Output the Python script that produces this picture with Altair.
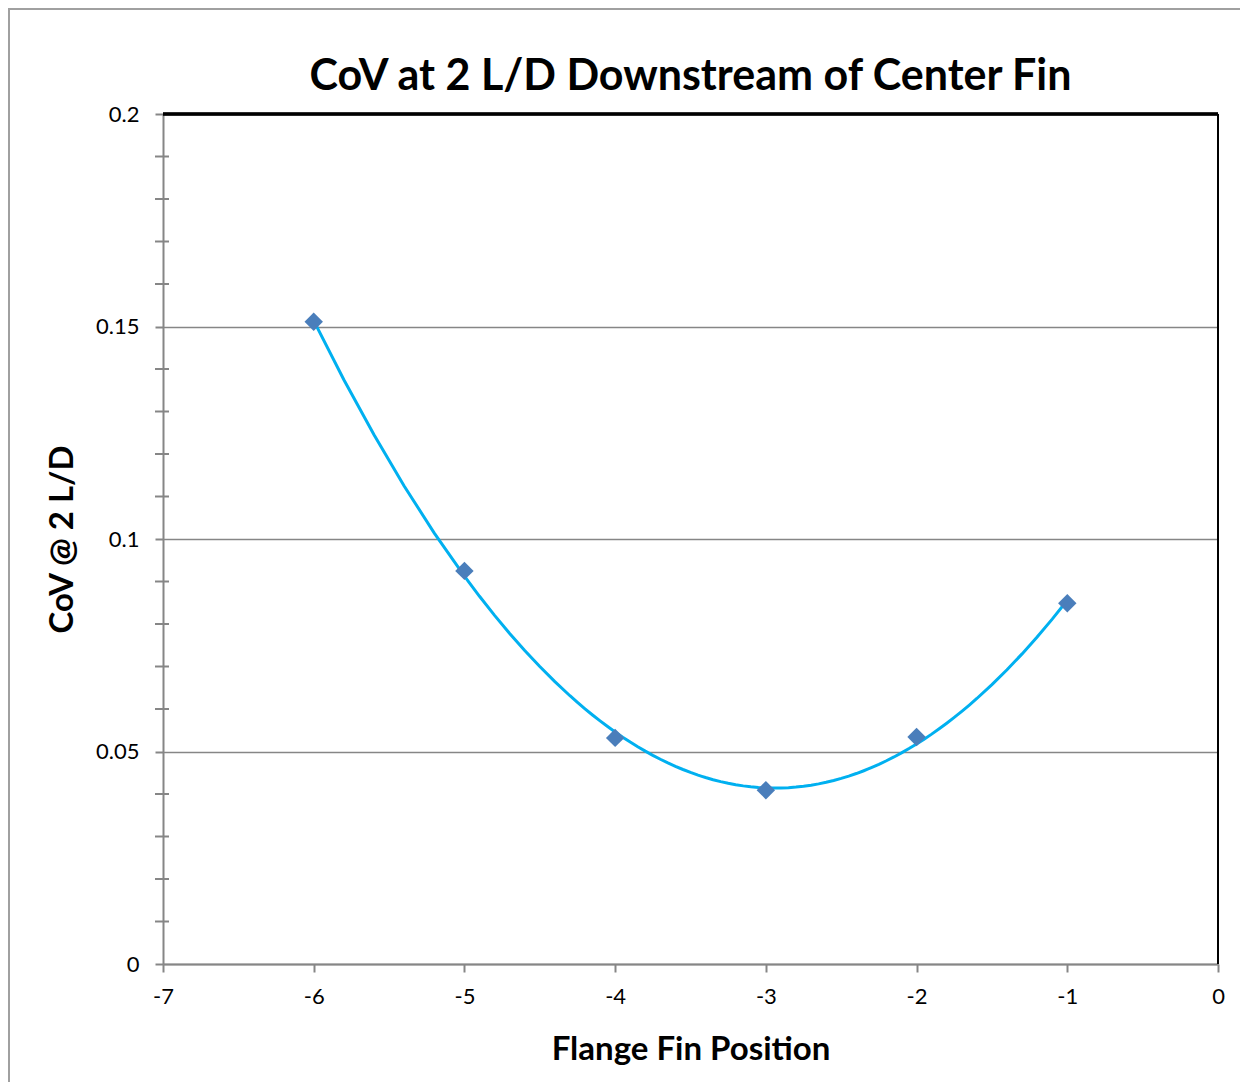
import altair as alt
import pandas as pd

# Data
positions = [-6, -5, -4, -3, -2, -1]
cov_values = [0.1511, 0.0925, 0.0532, 0.0409, 0.0534, 0.0849]

x_ticks = [-7, -6, -5, -4, -3, -2, -1, 0]
y_ticks = [0, 0.05, 0.1, 0.15, 0.2]
y_minor = [0.01, 0.02, 0.03, 0.04, 0.06, 0.07, 0.08, 0.09,
           0.11, 0.12, 0.13, 0.14, 0.16, 0.17, 0.18, 0.19]

df = pd.DataFrame({"pos": positions, "cov": cov_values})
minor_df = pd.DataFrame({"v": y_minor})

FONT = "Lato"
GRAY = "#868686"

x_scale = alt.Scale(domain=[-7, 0], nice=False, zero=False)
y_scale = alt.Scale(domain=[0, 0.2], nice=False)

x_enc = alt.X("pos:Q", scale=x_scale,
              axis=alt.Axis(title="Flange Fin Position", values=x_ticks,
                            labelExpr="datum.value < 0 ? '-' + format(-datum.value, 'd') : format(datum.value, 'd')",
                            grid=False, domainColor=GRAY, domainWidth=2,
                            tickColor=GRAY, tickWidth=2, tickSize=8,
                            labelFont=FONT, labelFontSize=22, labelColor="black",
                            labelPadding=14, labelFlush=False,
                            titleFont=FONT, titleFontSize=33, titleFontWeight="bold",
                            titleColor="black", titlePadding=26))
y_enc = alt.Y("cov:Q", scale=y_scale,
              axis=alt.Axis(title="CoV @ 2 L/D", values=y_ticks,
                            labelExpr="datum.value == 0 ? '0' : format(datum.value, '.2~f')",
                            grid=True, gridColor=GRAY, gridWidth=1.5,
                            domainColor=GRAY, domainWidth=2,
                            tickColor=GRAY, tickWidth=2, tickSize=8,
                            labelFont=FONT, labelFontSize=22, labelColor="black",
                            labelPadding=16, labelFlush=False,
                            titleFont=FONT, titleFontSize=33, titleFontWeight="bold",
                            titleColor="black", titlePadding=16))

trend = alt.Chart(df).transform_regression(
    "pos", "cov", method="poly", order=2, extent=[-6, -1]
).mark_line(color="#00B0F0", strokeWidth=3).encode(x=x_enc, y=y_enc)

points = alt.Chart(df).mark_point(shape="diamond", filled=True, size=340,
                                  color="#4A7EBB", opacity=1).encode(x=x_enc, y=y_enc)

minor = alt.Chart(minor_df).mark_rule(color=GRAY, strokeWidth=2).encode(
    y=alt.Y("v:Q", scale=y_scale), x=alt.value(-8), x2=alt.value(6))

border_top = alt.Chart(df).mark_rule(color="black", strokeWidth=2.5).encode(
    x=alt.value(0), x2=alt.value(1055), y=alt.value(0))
border_right = alt.Chart(df).mark_rule(color="black", strokeWidth=2).encode(
    x=alt.value(1055), y=alt.value(0), y2=alt.value(850))

frame_left = alt.Chart(df).mark_rule(color="#A0A0A0", strokeWidth=2).encode(
    x=alt.value(-154), y=alt.value(-106), y2=alt.value(1000))
frame_top = alt.Chart(df).mark_rule(color="#A0A0A0", strokeWidth=2).encode(
    x=alt.value(-155), x2=alt.value(1100), y=alt.value(-105))

chart = alt.layer(minor, trend, points, border_top, border_right, frame_left, frame_top).properties(
    width=1055, height=850,
    title=alt.TitleParams("CoV at 2 L/D Downstream of Center Fin", font=FONT,
                          fontSize=43, fontWeight="bold", color="black",
                          anchor="middle", frame="group", baseline="bottom", offset=-135),
    autosize=alt.AutoSizeParams(type="none"),
    padding={"left": 155, "top": 106, "right": 22, "bottom": 118},
).configure_view(stroke=None).configure(background="white")

chart.save("out.html", embed_options={"renderer": "svg", "actions": False})
